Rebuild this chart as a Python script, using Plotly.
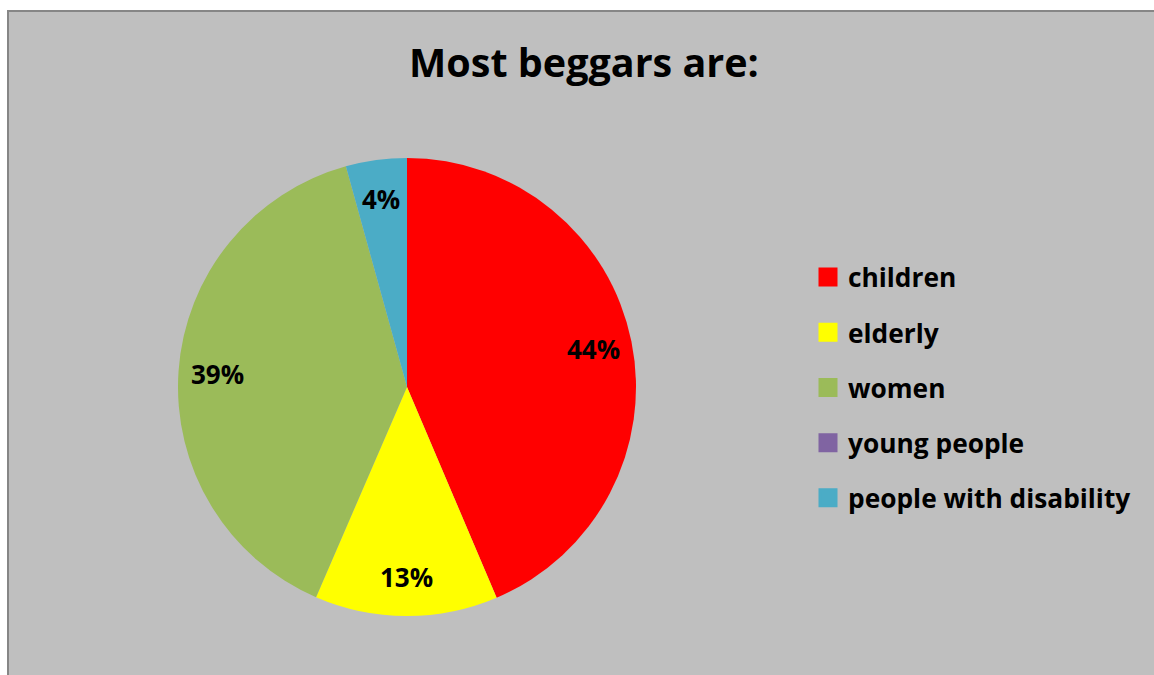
import math
import plotly.graph_objects as go

categories = ["children", "elderly", "women", "young people", "people with disability"]
values = [43.6, 12.9, 39.2, 0, 4.3]
colors = ["#FF0000", "#FFFF00", "#9BBB59", "#8064A2", "#4BACC6"]
title_text = "Most beggars are:"

W, H = 1154, 675
FONT = "Open Sans"

# pie geometry (pixels)
CX, CY, R = 407, 387, 229
LABEL_R = 0.83

fig = go.Figure()
fig.add_trace(go.Pie(
    labels=categories, values=values, sort=False, direction="clockwise", rotation=0,
    marker=dict(colors=colors, line=dict(width=0)),
    textinfo="none", showlegend=False, hoverinfo="label+percent",
    domain=dict(x=[(CX - R) / W, (CX + R) / W], y=[1 - (CY + R) / H, 1 - (CY - R) / H]),
))

# percentage labels placed at slice mid-angles derived from the values
total = sum(values)
annotations = []
cum = 0.0
for v in values:
    if v > 0:
        mid = (cum + v / 2) / total * 2 * math.pi
        px = CX + LABEL_R * R * math.sin(mid)
        py = CY - LABEL_R * R * math.cos(mid)
        annotations.append(dict(
            x=px / W, y=1 - py / H, xref="paper", yref="paper", showarrow=False,
            text=f"<b>{round(v / total * 100)}%</b>", xanchor="center", yanchor="middle",
            font=dict(family=FONT, size=26, color="black"),
        ))
    cum += v

for i, (c, col) in enumerate(zip(categories, colors)):
    fig.add_trace(go.Scatter(
        x=[None], y=[None], mode="markers", name=c,
        marker=dict(symbol="square", size=16, color=col, line=dict(color=col, width=3)),
        legendgroup=f"g{i}", showlegend=True,
    ))

fig.update_layout(
    width=W, height=H,
    margin=dict(l=0, r=0, t=0, b=0),
    paper_bgcolor="white", plot_bgcolor="rgba(0,0,0,0)",
    xaxis=dict(visible=False), yaxis=dict(visible=False),
    title=dict(text="<b>" + title_text + "</b>", x=584 / W, xanchor="center",
               y=1 - 63 / H, yanchor="middle",
               font=dict(family=FONT, size=39.5, color="black")),
    legend=dict(x=808 / W, xanchor="left", y=1 - 387.5 / H, yanchor="middle",
                font=dict(family=FONT, size=26.3, color="black", weight="bold"),
                tracegroupgap=18, bgcolor="rgba(0,0,0,0)", itemclick=False),
    annotations=annotations,
    shapes=[
        dict(type="rect", xref="paper", yref="paper", x0=7 / W, x1=1, y0=0, y1=1 - 10 / H,
             fillcolor="#BFBFBF", line=dict(width=0), layer="below"),
        dict(type="line", xref="paper", yref="paper", x0=8 / W, x1=8 / W, y0=0, y1=1 - 10 / H,
             line=dict(color="#868686", width=2), layer="below"),
        dict(type="line", xref="paper", yref="paper", x0=7 / W, x1=1, y0=1 - 11 / H, y1=1 - 11 / H,
             line=dict(color="#868686", width=2), layer="below"),
    ],
)

fig.write_html("out.html", config={"displayModeBar": False},
               post_script="document.body.style.margin='0';")
